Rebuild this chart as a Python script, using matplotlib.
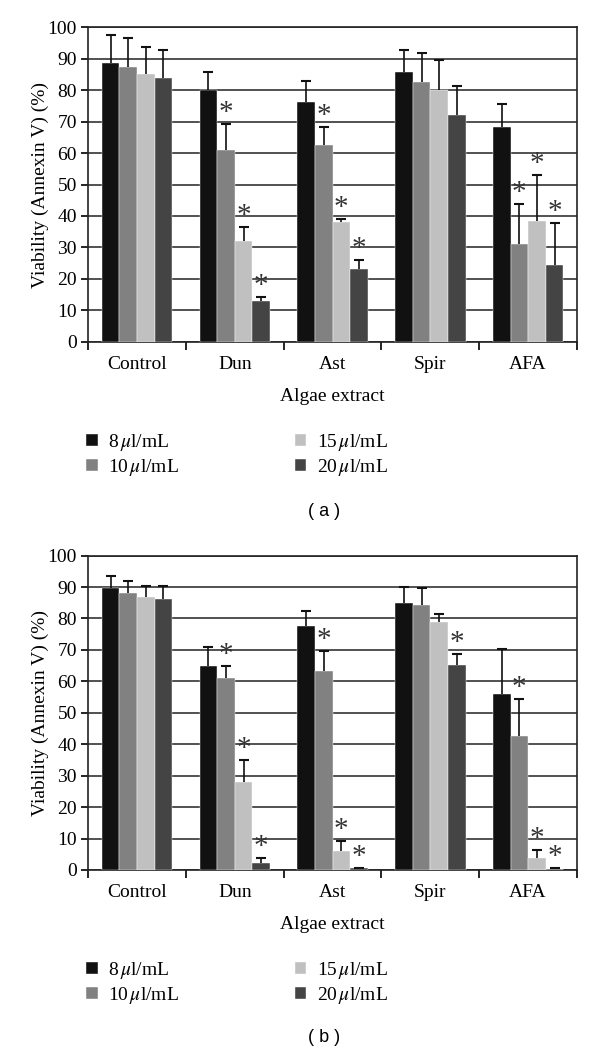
"""Viability (Annexin V) of cells treated with algae extracts, panels (a) and (b)."""

import matplotlib
matplotlib.use("Agg")
import matplotlib.pyplot as plt
import numpy as np

plt.rcParams["font.family"] = ["Liberation Serif", "DejaVu Serif"]
plt.rcParams["mathtext.fontset"] = "stix"

categories = ["Control", "Dun", "Ast", "Spir", "AFA"]
doses = ["8$\\,\\mu$l/mL", "10$\\,\\mu$l/mL", "15$\\,\\mu$l/mL", "20$\\,\\mu$l/mL"]
colors = ["#111111", "#818181", "#c0c0c0", "#444444"]

# panel (a): mean per dose, one list per dose over the categories
a_vals = [
    [88.8, 80.0, 76.2, 85.9, 68.2],
    [87.5, 60.9, 62.6, 82.6, 31.2],
    [85.0, 32.0, 38.2, 80.1, 38.4],
    [83.8, 13.0, 23.0, 72.1, 24.3],
]
a_err = [
    [8.8, 5.8, 6.7, 6.9, 7.3],
    [9.0, 8.2, 5.8, 9.1, 12.5],
    [8.8, 4.5, 0.8, 9.5, 14.6],
    [9.0, 1.1, 3.0, 9.2, 13.6],
]
a_star = [
    [0, 0, 0, 0, 0],
    [0, 1, 1, 0, 1],
    [0, 1, 1, 0, 1],
    [0, 1, 1, 0, 1],
]

# panel (b)
b_vals = [
    [89.8, 64.9, 77.6, 85.0, 55.9],
    [88.0, 60.9, 63.2, 84.2, 42.5],
    [86.7, 28.1, 6.0, 78.9, 3.9],
    [86.1, 2.3, 0.5, 65.1, 0.3],
]
b_err = [
    [3.8, 6.1, 4.9, 5.1, 14.4],
    [3.9, 4.0, 6.6, 5.4, 11.8],
    [3.6, 6.9, 3.3, 2.5, 2.4],
    [4.2, 1.4, 0.2, 3.5, 0.2],
]
b_star = [
    [0, 0, 0, 0, 0],
    [0, 1, 1, 0, 1],
    [0, 1, 1, 0, 1],
    [0, 1, 1, 1, 1],
]

fig = plt.figure(figsize=(6.0, 10.54), dpi=100)


def draw_panel(ax, vals, errs, stars):
    x = np.arange(len(categories))
    w = 0.18
    for i in range(len(doses)):
        pos = x + (i - 1.5) * w
        v = np.array(vals[i])
        top = v + np.array(errs[i])
        ax.bar(pos, v, width=w, color=colors[i], edgecolor="white",
               linewidth=0.3, label=doses[i], zorder=3)
        # upper error bar only
        ax.vlines(pos, v, top, color="#111111", linewidth=1.2, zorder=4)
        ax.plot(pos, top, linestyle="none", marker="_", markersize=7,
                markeredgewidth=1.5, color="#111111", zorder=4)
        for j in range(len(x)):
            if stars[i][j]:
                ax.text(pos[j], top[j] + 3.5, "*", ha="center",
                        va="center", fontsize=21, color="#333333", zorder=5)
    ax.set_xlim(-0.5, len(categories) - 0.5)
    ax.set_ylim(0, 100)
    ax.set_yticks(np.arange(0, 101, 10))
    ax.yaxis.grid(True, color="#222222", linewidth=1.1, zorder=0)
    ax.set_axisbelow(True)
    ax.set_xticks(np.arange(-0.5, len(categories), 1.0))
    ax.set_xticklabels([])
    ax.set_xticks(x, minor=True)
    ax.set_xticklabels(categories, minor=True, fontsize=14)
    ax.tick_params(axis="x", which="minor", length=0, pad=10)
    ax.tick_params(axis="x", which="major", length=6, width=1.2, direction="out")
    ax.tick_params(axis="y", length=5, width=1.2, direction="out", labelsize=14, pad=3)
    for s in ax.spines.values():
        s.set_linewidth(1.2)
        s.set_color("#222222")
    ax.set_ylabel("Viability (Annexin V) (%)", fontsize=14, labelpad=-1)
    ax.set_xlabel("Algae extract", fontsize=14, labelpad=11)


ax_a = fig.add_axes([0.1467, 0.6758, 0.815, 0.2983])
draw_panel(ax_a, a_vals, a_err, a_star)
ax_b = fig.add_axes([0.1467, 0.1746, 0.815, 0.2983])
draw_panel(ax_b, b_vals, b_err, b_star)

for ax, ytop, lab, ylab in [(ax_a, 1 - 422 / 1054, "( a )", 1 - 511 / 1054),
                            (ax_b, 1 - 950 / 1054, "( b )", 1 - 1037 / 1054)]:
    ax.legend(loc="upper left", bbox_to_anchor=(0.127, ytop),
              bbox_transform=fig.transFigure, ncol=2, frameon=False,
              fontsize=14, handlelength=0.6, handleheight=0.6,
              handletextpad=0.55, columnspacing=5.95, labelspacing=0.2,
              borderpad=0)
    fig.text(0.54, ylab, lab, ha="center", va="center", fontsize=13,
             family=["Liberation Sans", "DejaVu Sans"])

fig.savefig("out.png", dpi=100, facecolor="white")
